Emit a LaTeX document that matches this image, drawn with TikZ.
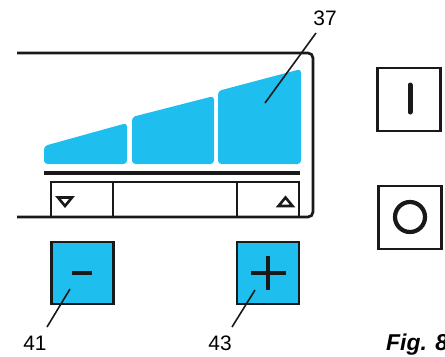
\documentclass[tikz,border=0pt]{standalone}
\usepackage{fontspec}
\setmainfont{Liberation Sans}
\begin{document}
\begin{tikzpicture}[x=1bp,y=-1bp,
  frame/.style={line width=2.7bp, draw=black!90},
  bar/.style={fill=cyanfill, rounded corners=3.5bp},
  keybox/.style={draw=black!90, line width=2.7bp, minimum width=62bp, minimum height=62bp, inner sep=0pt},
  lead/.style={line width=1.6bp, draw=black!90},
  num/.style={font=\fontsize{21}{21}\selectfont, inner sep=0pt}]
\definecolor{cyanfill}{RGB}{30,190,238}
\useasboundingbox (0,0) rectangle (445,356);
% display frame
\draw[frame, rounded corners=5bp] (17,53) -- (313,53) -- (313,217) -- (17,217);
% bars
\fill[bar] (44,164) -- (44,146) -- (127,123) -- (127,164) -- cycle;
\fill[bar] (132,164) -- (132,117) -- (214,96) -- (214,164) -- cycle;
\fill[bar] (218,164) -- (218,91) -- (301,69) -- (301,164) -- cycle;
\draw[line width=4bp, black!90] (44,173) -- (300,173);
% lower row
\draw[frame] (51,217) -- (51,182) -- (299,182) -- (299,217);
\draw[frame] (113,182) -- (113,217);
\draw[frame] (237,182) -- (237,217);
\draw[line width=2.6bp, black!90, line join=miter] (58,197.5) -- (72,197.5) -- (65,206) -- cycle;
\draw[line width=2.6bp, black!90, line join=miter] (278.5,206) -- (292.5,206) -- (285.5,197.5) -- cycle;
% label 37
\node[num] (l37) at (325,18) {37};
\coordinate (p37) at (265,103);
\draw[lead] (p37) -- (316,33);
% minus / plus
\node[keybox, fill=cyanfill] (minus) at (82.5,273) {};
\draw[line width=4.5bp, black!90] (72,273) -- (92,273);
\node[keybox, fill=cyanfill] (plus) at (268,273) {};
\draw[line width=4.5bp, black!90] (251,273) -- (286,273);
\draw[line width=4.5bp, black!90] (268,256) -- (268,290);
\node[num] (l41) at (35,343) {41};
\node[num] (l43) at (220,343) {43};
\coordinate (p41) at (70,289);
\coordinate (p43) at (255,290);
\draw[lead] (p41) -- (47,327);
\draw[lead] (p43) -- (232,327);
% I / O
\node[keybox, line width=2.3bp, minimum width=63bp, minimum height=63bp] (ion) at (409,99.5) {};
\draw[line width=5bp, black!90, line cap=round] (410,85) -- (410,112);
\node[keybox, line width=2.3bp, minimum width=63bp, minimum height=63bp] (ioff) at (410,217.5) {};
\draw[line width=4.2bp, black!90] (410,217) circle (15);
% caption
\node[anchor=base west, inner sep=0pt, font=\fontsize{23}{23}\selectfont\bfseries\itshape] (fig) at (386,350) {Fig. 8};
\end{tikzpicture}
\end{document}
